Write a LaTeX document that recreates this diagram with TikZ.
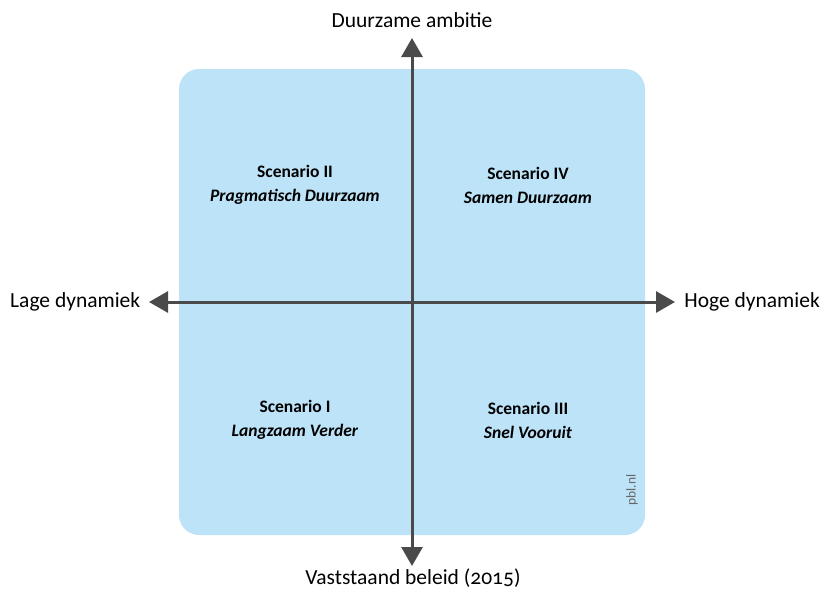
\documentclass[tikz,border=0pt]{standalone}
\usepackage{fontspec}
\setmainfont{Carlito}[Numbers=OldStyle]
\usetikzlibrary{arrows.meta}
\definecolor{panel}{HTML}{BDE3F8}
\definecolor{axis}{HTML}{4A4A4A}
\begin{document}
\begin{tikzpicture}[x=1pt,y=-1pt,
  axisline/.style={draw=axis,line width=3pt,-{Triangle[length=19pt,width=21pt]}},
  axlabel/.style={font=\fontsize{21.5}{24}\selectfont,text=black,inner sep=0pt},
  scen/.style={font=\fontsize{17.5}{24}\selectfont,align=center,inner sep=0pt}]
\useasboundingbox (0,0) rectangle (822,589);
\fill[panel,rounded corners=20pt] (179,69) rectangle (645,535);
\coordinate (c) at (412,302);
\coordinate (top) at (412,38);
\coordinate (bot) at (412,566);
\coordinate (lft) at (149,302);
\coordinate (rgt) at (675,302);
\draw[axisline] (c) -- (top);
\draw[axisline] (c) -- (bot);
\draw[axisline] (c) -- (lft);
\draw[axisline] (c) -- (rgt);
\node[axlabel] (tl) at (412,20) {Duurzame ambitie};
\node[axlabel] (bl) at (413,578) {Vaststaand beleid (2015)};
\node[axlabel,anchor=west] (ll) at (10,302) {Lage dynamiek};
\node[axlabel,anchor=east] (rl) at (820,302) {Hoge dynamiek};
\node[scen] (s2) at (295,185) {\textbf{Scenario II}\\\textbf{\textit{Pragmatisch Duurzaam}}};
\node[scen] (s4) at (528,185) {\textbf{Scenario IV}\\\textbf{\textit{Samen Duurzaam}}};
\node[scen] (s1) at (295,420) {\textbf{Scenario I}\\\textbf{\textit{Langzaam Verder}}};
\node[scen] (s3) at (528,420) {\textbf{Scenario III}\\\textbf{\textit{Snel Vooruit}}};
\node[rotate=90,font=\fontsize{13.5}{15}\selectfont,text=gray!80!black,inner sep=0pt] (pbl) at (632,490) {pbl.nl};
\end{tikzpicture}
\end{document}
